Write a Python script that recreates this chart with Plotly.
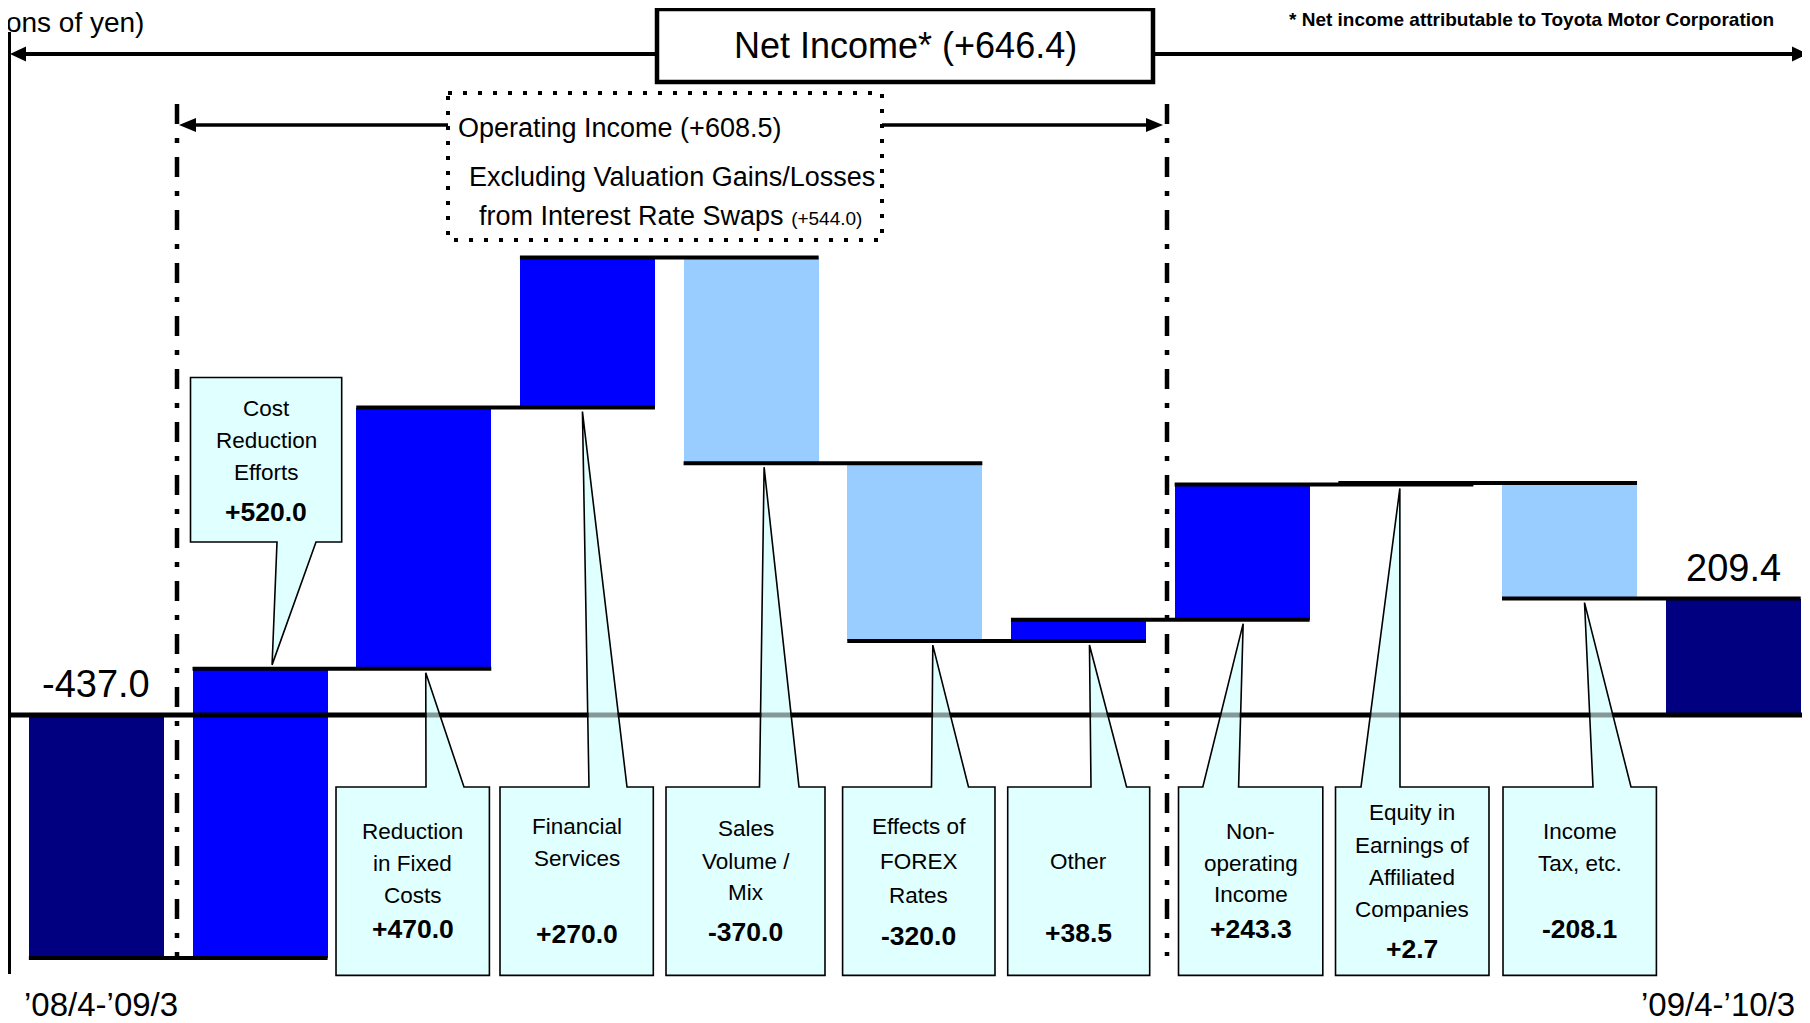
import plotly.graph_objects as go

# ---------------- data ----------------
categories = ["'08/4-'09/3 Net Income", "Cost Reduction Efforts", "Reduction in Fixed Costs",
              "Financial Services", "Sales Volume / Mix", "Effects of FOREX Rates", "Other",
              "Non-operating Income", "Equity in Earnings of Affiliated Companies",
              "Income Tax, etc.", "'09/4-'10/3 Net Income"]
values = [-437.0, 520.0, 470.0, 270.0, -370.0, -320.0, 38.5, 243.3, 2.7, -208.1, 209.4]
measures = ["total"] + ["relative"] * 9 + ["total"]
label_lines = [
    [],
    ["Cost", "Reduction", "Efforts"],
    ["Reduction", "in Fixed", "Costs"],
    ["Financial", "Services"],
    ["Sales", "Volume /", "Mix"],
    ["Effects of", "FOREX", "Rates"],
    ["Other"],
    ["Non-", "operating", "Income"],
    ["Equity in", "Earnings of", "Affiliated", "Companies"],
    ["Income", "Tax, etc."],
    [],
]
value_labels = ["-437.0", "+520.0", "+470.0", "+270.0", "-370.0", "-320.0", "+38.5",
                "+243.3", "+2.7", "-208.1", "209.4"]
period_labels = ["\u201908/4-\u201909/3", "\u201909/4-\u201910/3"]
net_income_label = "Net Income* (+646.4)"
operating_label = "Operating Income (+608.5)"
excl_line1 = "Excluding Valuation Gains/Losses"
excl_line2 = "from Interest Rate Swaps"
excl_value = "(+544.0)"
footnote = "* Net income attributable to Toyota Motor Corporation"
unit_label = "(Billions of yen)"

# ---------------- styling / layout ----------------
W, H = 1810, 1023
OFF = 8  # page offset of the figure (body margin)
XR = [-0.540, 10.518]
YR = [-568.3, 1271.6]
BW = 0.825
NAVY, BLUE, LIGHT = "#000080", "#0000FF", "#99CCFF"
CYAN = "#E0FFFF"
FONT = "Liberation Sans Narrow, Arial Narrow, Liberation Sans, Arial, sans-serif"


def X(xd):
    return OFF + (xd - XR[0]) / (XR[1] - XR[0]) * W


def Y(yd):
    return OFF + (YR[1] - yd) / (YR[1] - YR[0]) * H


def px(x):
    return (x - OFF) / W


def py(y):
    return 1 - (y - OFF) / H


def path(pts):
    return "M " + " L ".join(f"{px(a):.5f},{py(b):.5f}" for a, b in pts) + " Z"


# waterfall bookkeeping
bases, heights, levels, colors = [], [], [], []
level = 0.0
for v, m in zip(values, measures):
    if m == "total":
        bases.append(0.0)
        level = v
        colors.append(NAVY)
    else:
        bases.append(level)
        level += v
        colors.append(BLUE if v >= 0 else LIGHT)
    heights.append(v)
    levels.append(level)

n = len(values)
xs = list(range(n))

fig = go.Figure()
fig.add_trace(go.Bar(x=xs, y=heights, base=bases, width=BW, marker_color=colors,
                     marker_line_width=0, hoverinfo="skip", showlegend=False))

lx, ly = [], []
for i in range(n - 1):
    lx += [i - BW / 2, i + 1 + BW / 2, None]
    ly += [levels[i], levels[i], None]
fig.add_trace(go.Scatter(x=lx, y=ly, mode="lines", line=dict(color="black", width=4),
                         hoverinfo="skip", showlegend=False))

shapes = []
annotations = []

# callout geometry (page pixels): box l, r, t, b ; tail base ; apex dx ; text line ys ; value y
callouts = {
    1: dict(box=(190.5, 341.7, 377.5, 542.0), tail=(277, 316), dx=12, ys=[408, 440, 472], vy=512, above=True),
    2: dict(box=(336, 489.4, 787, 975.4), tail=(426, 464), dx=2, ys=[831, 863.4, 895.7], vy=929.2),
    3: dict(box=(500, 653.3, 787, 975.4), tail=(589, 627), dx=-5, ys=[826.5, 858.8], vy=933.8),
    4: dict(box=(666, 825, 787, 975.4), tail=(759.5, 799), dx=13, ys=[828.8, 861.1, 892.3], vy=931.5),
    5: dict(box=(842.6, 995, 787, 975.4), tail=(931.5, 968.5), dx=18, ys=[826.5, 861.1, 895.7], vy=936.1),
    6: dict(box=(1007.7, 1149.7, 787, 975.4), tail=(1091, 1126.6), dx=11, ys=[861.1], vy=932.7),
    7: dict(box=(1178.5, 1322.8, 787, 975.4), tail=(1202.8, 1238.6), dx=1, ys=[831, 863.4, 894.6], vy=929.2),
    8: dict(box=(1335.5, 1489, 787, 975.4), tail=(1361, 1400), dx=-6, ys=[812.6, 845, 877.3, 909.6], vy=948.8),
    9: dict(box=(1503, 1656.4, 787, 975.4), tail=(1593, 1631), dx=15, ys=[831, 863.4], vy=929.2),
}

strips = []
y_zero = Y(0)
for i, c in callouts.items():
    l, r, t, b = c["box"]
    bl, br = c["tail"]
    lo = min(bases[i], bases[i] + heights[i])
    hi = max(bases[i], bases[i] + heights[i])
    ax = X(i) + c["dx"]
    if c.get("above"):
        ay = Y(hi) - 4
        pts = [(l, t), (r, t), (r, b), (br, b), (ax, ay), (bl, b), (l, b)]
    else:
        ay = Y(lo) + 4
        pts = [(l, b), (l, t), (bl, t), (ax, ay), (br, t), (r, t), (r, b)]

        def edge(xb, yy, ax=ax, ay=ay, t=t):
            return ax + (xb - ax) * (yy - ay) / (t - ay)
        y1, y2 = y_zero - 3.5, y_zero + 3.5
        strips.append(dict(type="path", xref="paper", yref="paper", layer="above",
                           path=path([(edge(bl, y1) + 1, y1), (edge(br, y1) - 1, y1),
                                      (edge(br, y2) - 1, y2), (edge(bl, y2) + 1, y2)]),
                           fillcolor="rgba(224,255,255,0.6)", line=dict(width=0)))
    shapes.append(dict(type="path", xref="paper", yref="paper", layer="above", path=path(pts),
                       fillcolor=CYAN, line=dict(color="black", width=1.6)))
    cx = (l + r) / 2
    for k, txt in enumerate(label_lines[i]):
        annotations.append(dict(x=px(cx), y=py(c["ys"][k]), xref="paper", yref="paper",
                                text=txt, showarrow=False, xanchor="center", yanchor="middle",
                                font=dict(family=FONT, size=22.5, color="black")))
    annotations.append(dict(x=px(cx), y=py(c["vy"]), xref="paper", yref="paper",
                            text="<b>" + value_labels[i] + "</b>", showarrow=False,
                            xanchor="center", yanchor="middle",
                            font=dict(family=FONT, size=26.5, color="black")))

# zero line, then translucent strips where callout tails cross it
shapes.append(dict(type="line", xref="paper", yref="y", x0=px(9), x1=1, y0=0, y1=0,
                   layer="above", line=dict(color="black", width=5)))
shapes += strips

# left vertical axis line
shapes.append(dict(type="line", xref="paper", yref="paper", x0=px(9), x1=px(9),
                   y0=py(32), y1=py(974), layer="above", line=dict(color="black", width=4)))

# dash-dot separators
for xpix in (177, 1167):
    shapes.append(dict(type="line", xref="paper", yref="paper", x0=px(xpix), x1=px(xpix),
                       y0=py(104), y1=py(956), layer="above",
                       line=dict(color="black", width=4.5, dash="20px,14px,5px,14px")))

# net income arrow + box
NI_Y = 54
shapes.append(dict(type="line", xref="paper", yref="paper", x0=px(20), x1=px(657),
                   y0=py(NI_Y), y1=py(NI_Y), layer="above", line=dict(color="black", width=4)))
shapes.append(dict(type="line", xref="paper", yref="paper", x0=px(1153), x1=px(1796),
                   y0=py(NI_Y), y1=py(NI_Y), layer="above", line=dict(color="black", width=4)))
shapes.append(dict(type="path", xref="paper", yref="paper", layer="above",
                   path=path([(10, NI_Y), (26, NI_Y - 7.5), (26, NI_Y + 7.5)]),
                   fillcolor="black", line=dict(width=0)))
shapes.append(dict(type="path", xref="paper", yref="paper", layer="above",
                   path=path([(1808, NI_Y), (1792, NI_Y - 7.5), (1792, NI_Y + 7.5)]),
                   fillcolor="black", line=dict(width=0)))
shapes.append(dict(type="rect", xref="paper", yref="paper", x0=px(657), x1=px(1153),
                   y0=py(9), y1=py(82), layer="above", fillcolor="white",
                   line=dict(color="black", width=4.5)))

# operating income arrow + dotted box
OP_Y = 125
shapes.append(dict(type="line", xref="paper", yref="paper", x0=px(190), x1=px(448),
                   y0=py(OP_Y), y1=py(OP_Y), layer="above", line=dict(color="black", width=3.5)))
shapes.append(dict(type="line", xref="paper", yref="paper", x0=px(882), x1=px(1150),
                   y0=py(OP_Y), y1=py(OP_Y), layer="above", line=dict(color="black", width=3.5)))
shapes.append(dict(type="path", xref="paper", yref="paper", layer="above",
                   path=path([(179, OP_Y), (196, OP_Y - 7), (196, OP_Y + 7)]),
                   fillcolor="black", line=dict(width=0)))
shapes.append(dict(type="path", xref="paper", yref="paper", layer="above",
                   path=path([(1163, OP_Y), (1146, OP_Y - 7), (1146, OP_Y + 7)]),
                   fillcolor="black", line=dict(width=0)))
shapes.append(dict(type="rect", xref="paper", yref="paper", x0=px(448), x1=px(882),
                   y0=py(93), y1=py(240), layer="above", fillcolor="rgba(0,0,0,0)",
                   line=dict(color="black", width=4, dash="4px,11px")))

# header texts
annotations += [
    dict(x=px(146), y=py(23), xref="paper", yref="paper", text=unit_label, showarrow=False,
         xanchor="right", yanchor="middle", font=dict(family=FONT, size=28, color="black")),
    dict(x=px(1776), y=py(20), xref="paper", yref="paper", text="<b>" + footnote + "</b>",
         showarrow=False, xanchor="right", yanchor="middle",
         font=dict(family=FONT, size=19, color="black")),
    dict(x=px(905), y=py(46), xref="paper", yref="paper", text=net_income_label, showarrow=False,
         xanchor="center", yanchor="middle", font=dict(family=FONT, size=36, color="black")),
    dict(x=px(456), y=py(128), xref="paper", yref="paper", text=operating_label, showarrow=False,
         xanchor="left", yanchor="middle", font=dict(family=FONT, size=27, color="black")),
    dict(x=px(672), y=py(177), xref="paper", yref="paper", text=excl_line1, showarrow=False,
         xanchor="center", yanchor="middle", font=dict(family=FONT, size=27, color="black")),
    dict(x=px(670), y=py(216), xref="paper", yref="paper",
         text=excl_line2 + " <span style='font-size:19px'>" + excl_value + "</span>",
         showarrow=False, xanchor="center", yanchor="middle",
         font=dict(family=FONT, size=27, color="black")),
]

# total value labels (data-anchored)
for i in (0, n - 1):
    top = max(bases[i], bases[i] + heights[i])
    annotations.append(dict(x=i, y=top, xref="x", yref="y", text=value_labels[i],
                            showarrow=False, xanchor="center", yanchor="middle", yshift=31,
                            font=dict(family=FONT, size=38, color="black")))

# period labels
annotations.append(dict(x=px(22), y=py(1004), xref="paper", yref="paper", text=period_labels[0],
                        showarrow=False, xanchor="left", yanchor="middle",
                        font=dict(family=FONT, size=33, color="black")))
annotations.append(dict(x=px(1797), y=py(1004), xref="paper", yref="paper", text=period_labels[1],
                        showarrow=False, xanchor="right", yanchor="middle",
                        font=dict(family=FONT, size=33, color="black")))

fig.update_layout(
    width=W, height=H,
    margin=dict(l=0, r=0, t=0, b=0),
    paper_bgcolor="white", plot_bgcolor="white",
    xaxis=dict(range=XR, visible=False, fixedrange=True),
    yaxis=dict(range=YR, visible=False, fixedrange=True),
    shapes=shapes, annotations=annotations,
    bargap=0, showlegend=False,
)

fig.write_html("out.html")
